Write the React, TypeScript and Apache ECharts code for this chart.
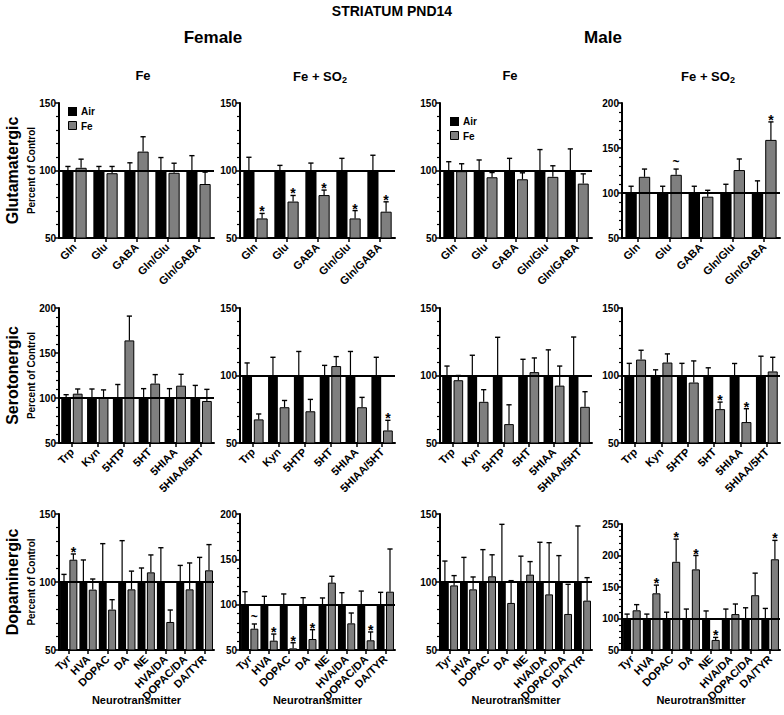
import React, { useEffect, useRef } from "react";
import * as echarts from "echarts";

const FONT = "'Liberation Sans', Arial, Helvetica, sans-serif";

// ---------- categories ----------
const gluCats = ["Gln", "Glu", "GABA", "Gln/Glu", "Gln/GABA"];
const seroCats = ["Trp", "Kyn", "5HTP", "5HT", "5HIAA", "5HIAA/5HT"];
const dopaCats = ["Tyr", "HVA", "DOPAC", "DA", "NE", "HVA/DA", "DOPAC/DA", "DA/TYR"];

// Air (control) means
const gluAir = [100, 100, 100, 100, 100];
const seroAir = [100, 100, 100, 100, 100, 100];
const dopaAir = [100, 100, 100, 100, 100, 100, 100, 100];

// ---------- Glutamatergic ----------
const gluFemFeAirErr = [103, 103, 105.7, 109.6, 111];
const gluFemFe = [102, 98, 114, 98.3, 90];
const gluFemFeErr = [108.4, 103, 125, 105.4, 98.8];
const gluFemFeSig = ["", "", "", "", ""];

const gluFemSoAirErr = [109.8, 103.8, 105.5, 109, 111.3];
const gluFemSo = [64.5, 77, 81.8, 64.5, 69.5];
const gluFemSoErr = [68.2, 81.5, 85.5, 70.3, 76.8];
const gluFemSoSig = ["*", "*", "*", "*", "*"];

const gluMalFeAirErr = [106.5, 107.8, 109, 115.5, 116];
const gluMalFe = [99.5, 95, 93.5, 95.3, 90.3];
const gluMalFeErr = [105, 98.5, 98.3, 103.5, 97.5];
const gluMalFeSig = ["", "", "", "", ""];

const gluMalSoAirErr = [107.5, 107.5, 107.5, 109.7, 113.5];
const gluMalSo = [118, 120.2, 95.9, 125.5, 159];
const gluMalSoErr = [126.6, 126.6, 103, 137.8, 179];
const gluMalSoSig = ["", "~", "", "", "*"];

// ---------- Serotonergic ----------
const seroFemFeAirErr = [103.7, 110, 115, 110.4, 110.4, 114];
const seroFemFe = [104.8, 100, 164, 116, 113.7, 96.7];
const seroFemFeErr = [110, 109, 191, 126, 126.3, 109.6];
const seroFemFeSig = ["", "", "", "", "", ""];

const seroFemSoAirErr = [109.3, 113.5, 117.8, 107.5, 117.8, 113.5];
const seroFemSo = [67.5, 76.5, 73.5, 107, 76.5, 59.3];
const seroFemSoErr = [71.5, 81.5, 82.3, 114, 83.8, 66.8];
const seroFemSoSig = ["", "", "", "", "", "*"];

const seroMalFeAirErr = [107, 115, 128.3, 112, 119, 128.5];
const seroMalFe = [96.5, 80.5, 64, 102.5, 92.5, 76.8];
const seroMalFeErr = [100, 89.5, 78.3, 113, 107, 88];
const seroMalFeSig = ["", "", "", "", "", ""];

const seroMalSoAirErr = [109, 104.2, 109, 105.7, 108.9, 114.3];
const seroMalSo = [111.8, 109.6, 94.8, 75.1, 65.5, 103];
const seroMalSoErr = [118.7, 116, 110.8, 80.3, 75.4, 113.5];
const seroMalSoSig = ["", "", "", "*", "*", ""];

// ---------- Dopaminergic ----------
const dopaFemFeAirErr = [105.6, 116.2, 128.2, 130.4, 110.3, 125.2, 112.2, 118.1];
const dopaFemFe = [116.4, 94.4, 79.7, 94.6, 107.1, 70.6, 94.6, 108.6];
const dopaFemFeErr = [120.6, 102.2, 87, 108, 119.9, 79.4, 114, 127.5];
const dopaFemFeSig = ["*", "", "", "", "", "", "", ""];

const dopaFemSoAirErr = [114.3, 109.2, 111.8, 107.7, 107.4, 113.2, 115, 113.6];
const dopaFemSo = [73.5, 60.3, 51.8, 62.1, 124.3, 79.4, 60.7, 114.3];
const dopaFemSoErr = [78.7, 67.6, 58, 72.4, 131.3, 90.8, 69.9, 161.4];
const dopaFemSoSig = ["~", "*", "*", "*", "", "", "*", ""];

const dopaMalFeAirErr = [115.4, 118.1, 123.8, 142.4, 119, 129.2, 119.4, 141.2];
const dopaMalFe = [97.5, 94.6, 104.2, 84.6, 105.4, 90.9, 76.5, 86.3];
const dopaMalFeErr = [104.7, 103.7, 120, 101, 115, 128.9, 98.3, 103.2];
const dopaMalFeSig = ["", "", "", "", "", "", "", ""];

const dopaMalSoAirErr = [107, 107, 110, 115, 112, 115, 117, 116];
const dopaMalSo = [113, 140, 190, 178, 66, 107, 137, 194];
const dopaMalSoErr = [122, 153, 226, 200, 70, 123, 172, 224];
const dopaMalSoSig = ["", "*", "*", "*", "*", "", "", "*"];

// axis ranges
const yMinByPanel = [50, 50, 50, 50, 50, 50, 50, 50, 50, 50, 50, 50];
const yMaxByPanel = [150, 150, 150, 200, 200, 150, 150, 150, 150, 200, 150, 250];

// ---------- layout ----------
const colLeft = [59, 240, 440, 622];
const colWidth = [155, 155, 152, 158];
const rowTop = [103, 308, 514];
const rowHeight = [135, 135, 136];
const rowBarFrac = [0.36, 0.38, 0.41];
const BAR_GAP = 0.18;

type Panel = {
  row: number;
  col: number;
  cats: string[];
  air: number[];
  airErr: number[];
  fe: number[];
  feErr: number[];
  sig: string[];
};

const panels: Panel[] = [
  { row: 0, col: 0, cats: gluCats, air: gluAir, airErr: gluFemFeAirErr, fe: gluFemFe, feErr: gluFemFeErr, sig: gluFemFeSig },
  { row: 0, col: 1, cats: gluCats, air: gluAir, airErr: gluFemSoAirErr, fe: gluFemSo, feErr: gluFemSoErr, sig: gluFemSoSig },
  { row: 0, col: 2, cats: gluCats, air: gluAir, airErr: gluMalFeAirErr, fe: gluMalFe, feErr: gluMalFeErr, sig: gluMalFeSig },
  { row: 0, col: 3, cats: gluCats, air: gluAir, airErr: gluMalSoAirErr, fe: gluMalSo, feErr: gluMalSoErr, sig: gluMalSoSig },
  { row: 1, col: 0, cats: seroCats, air: seroAir, airErr: seroFemFeAirErr, fe: seroFemFe, feErr: seroFemFeErr, sig: seroFemFeSig },
  { row: 1, col: 1, cats: seroCats, air: seroAir, airErr: seroFemSoAirErr, fe: seroFemSo, feErr: seroFemSoErr, sig: seroFemSoSig },
  { row: 1, col: 2, cats: seroCats, air: seroAir, airErr: seroMalFeAirErr, fe: seroMalFe, feErr: seroMalFeErr, sig: seroMalFeSig },
  { row: 1, col: 3, cats: seroCats, air: seroAir, airErr: seroMalSoAirErr, fe: seroMalSo, feErr: seroMalSoErr, sig: seroMalSoSig },
  { row: 2, col: 0, cats: dopaCats, air: dopaAir, airErr: dopaFemFeAirErr, fe: dopaFemFe, feErr: dopaFemFeErr, sig: dopaFemFeSig },
  { row: 2, col: 1, cats: dopaCats, air: dopaAir, airErr: dopaFemSoAirErr, fe: dopaFemSo, feErr: dopaFemSoErr, sig: dopaFemSoSig },
  { row: 2, col: 2, cats: dopaCats, air: dopaAir, airErr: dopaMalFeAirErr, fe: dopaMalFe, feErr: dopaMalFeErr, sig: dopaMalFeSig },
  { row: 2, col: 3, cats: dopaCats, air: dopaAir, airErr: dopaMalSoAirErr, fe: dopaMalSo, feErr: dopaMalSoErr, sig: dopaMalSoSig },
];

// panel-specific vertical tweak (bottom-right panel starts lower)
function gridBox(k: number, p: Panel) {
  let top = rowTop[p.row];
  let height = rowHeight[p.row];
  if (p.row === 2 && p.col === 3) {
    top = 524;
    height = 126;
  }
  return { left: colLeft[p.col], top, width: colWidth[p.col], height };
}

function makeRender(sig: string[], frac: number) {
  return (params: any, api: any) => {
    const i = api.value(0);
    const bw = api.size([1, 0])[0];
    const off = (bw * frac * (1 + BAR_GAP)) / 2;
    const cx = api.coord([i, 100])[0];
    const cap = 2.6;
    const els: any[] = [];
    const bars: [number, number, number, string][] = [
      [api.value(1), api.value(2), cx - off, ""],
      [api.value(3), api.value(4), cx + off, sig[i]],
    ];
    for (const [m, t, x, s] of bars) {
      const y0 = api.coord([i, m])[1];
      const y1 = api.coord([i, t])[1];
      els.push({ type: "line", shape: { x1: x, y1: y0, x2: x, y2: y1 }, style: { stroke: "#000", lineWidth: 1.2 } });
      els.push({ type: "line", shape: { x1: x - cap, y1: y1, x2: x + cap, y2: y1 }, style: { stroke: "#000", lineWidth: 1.4 } });
      if (s) {
        els.push({
          type: "text",
          x: x,
          y: s === "*" ? y1 + 5 : y1 - 1,
          style: {
            text: s,
            fill: "#000",
            font: `bold ${s === "*" ? 14 : 12}px ${FONT}`,
            textAlign: "center",
            textVerticalAlign: "bottom",
          },
        });
      }
    }
    return { type: "group", children: els };
  };
}

function txt(text: string, x: number, y: number, size: number, rot = 0, align = "center"): any {
  return {
    type: "text",
    x,
    y,
    rotation: rot,
    style: { text, fill: "#000", font: `bold ${size}px ${FONT}`, textAlign: align, textVerticalAlign: "middle" },
  };
}

function soTitle(x: number, y: number): any {
  return {
    type: "text",
    x,
    y,
    style: {
      text: "{a|Fe + SO}{b|2}",
      textAlign: "center",
      textVerticalAlign: "middle",
      rich: {
        a: { fontSize: 13, fontWeight: "bold", fontFamily: FONT, fill: "#000" },
        b: { fontSize: 9, fontWeight: "bold", fontFamily: FONT, fill: "#000", padding: [7, 0, 0, 0] },
      },
    },
  };
}

function buildOption(): any {
  const grid: any[] = [];
  const xAxis: any[] = [];
  const yAxis: any[] = [];
  const series: any[] = [];

  panels.forEach((p, k) => {
    const frac = rowBarFrac[p.row];
    grid.push(gridBox(k, p));
    xAxis.push({
      type: "category",
      gridIndex: k,
      data: p.cats,
      axisLine: { show: true, onZero: false, lineStyle: { color: "#000", width: 2 } },
      axisTick: { show: true, alignWithLabel: true, length: 4, lineStyle: { color: "#000", width: 1.5 } },
      axisLabel: { interval: 0, rotate: 45, fontSize: 11, fontWeight: "bold", color: "#000", fontFamily: FONT, margin: 7 },
      splitLine: { show: false },
    });
    yAxis.push({
      type: "value",
      gridIndex: k,
      min: yMinByPanel[k],
      max: yMaxByPanel[k],
      interval: 50,
      axisLine: { show: true, lineStyle: { color: "#000", width: 2 } },
      axisTick: { show: true, length: 4, lineStyle: { color: "#000", width: 1.5 } },
      minorTick: { show: true, splitNumber: 5, length: 3, lineStyle: { color: "#000", width: 1.2 } },
      splitLine: { show: false },
      minorSplitLine: { show: false },
      axisLabel: { fontSize: 10, fontWeight: "bold", color: "#000", fontFamily: FONT, margin: 3 },
    });
    series.push({
      type: "bar",
      name: "Air",
      xAxisIndex: k,
      yAxisIndex: k,
      data: p.air,
      barWidth: `${frac * 100}%`,
      barGap: `${BAR_GAP * 100}%`,
      itemStyle: { color: "#000" },
      silent: true,
    });
    series.push({
      type: "bar",
      name: "Fe",
      xAxisIndex: k,
      yAxisIndex: k,
      data: p.fe,
      barWidth: `${frac * 100}%`,
      barGap: `${BAR_GAP * 100}%`,
      itemStyle: { color: "#7f7f7f", borderColor: "#000", borderWidth: 1 },
      silent: true,
    });
    series.push({
      type: "custom",
      xAxisIndex: k,
      yAxisIndex: k,
      z: 10,
      clip: false,
      silent: true,
      renderItem: makeRender(p.sig, frac),
      encode: { x: 0, y: [1, 2, 3, 4] },
      data: p.cats.map((_, i) => [i, p.air[i], p.airErr[i], p.fe[i], p.feErr[i]]),
      markLine: {
        silent: true,
        symbol: "none",
        label: { show: false },
        lineStyle: { color: "#000", width: 2, type: "solid" },
        data: [{ yAxis: 100 }],
        z: 12,
      },
    });
  });

  const colCenters = colLeft.map((l, i) => l + colWidth[i] / 2);
  const rowCenters = rowTop.map((t, i) => t + rowHeight[i] / 2);

  const graphic: any[] = [
    txt("STRIATUM PND14", 392, 11, 14),
    txt("Female", 213, 37, 17),
    txt("Male", 603, 37, 17),
    txt("Fe", 143, 75, 13),
    txt("Fe", 510, 75, 13),
    soTitle(320, 76),
    soTitle(708, 76),
    txt("Glutamatergic", 12, rowCenters[0], 16, Math.PI / 2),
    txt("Serotonergic", 12, rowCenters[1], 16, Math.PI / 2),
    txt("Dopaminergic", 12, rowCenters[2], 16, Math.PI / 2),
    txt("Percent of Control", 31, rowCenters[0], 10, Math.PI / 2),
    txt("Percent of Control", 31, rowCenters[1], 10, Math.PI / 2),
    txt("Percent of Control", 31, rowCenters[2], 10, Math.PI / 2),
    // legends
    { type: "rect", shape: { x: 68, y: 107, width: 9, height: 9 }, style: { fill: "#000" } },
    txt("Air", 81, 111.5, 10, 0, "left"),
    { type: "rect", shape: { x: 68.5, y: 121.5, width: 8, height: 8 }, style: { fill: "#7f7f7f", stroke: "#000", lineWidth: 1 } },
    txt("Fe", 81, 126, 10, 0, "left"),
    { type: "rect", shape: { x: 450, y: 117, width: 9, height: 9 }, style: { fill: "#000" } },
    txt("Air", 463, 121.5, 10, 0, "left"),
    { type: "rect", shape: { x: 450.5, y: 131.5, width: 8, height: 8 }, style: { fill: "#7f7f7f", stroke: "#000", lineWidth: 1 } },
    txt("Fe", 463, 136, 10, 0, "left"),
  ];
  colCenters.forEach((c) => graphic.push(txt("Neurotransmitter", c, 700, 11)));

  return { animation: false, backgroundColor: "#fff", grid, xAxis, yAxis, series, graphic };
}

export default function App() {
  const ref = useRef<HTMLDivElement>(null);
  useEffect(() => {
    if (!ref.current) return;
    const chart = echarts.init(ref.current, undefined, { renderer: "svg" });
    chart.setOption(buildOption());
    return () => chart.dispose();
  }, []);
  return <div ref={ref} style={{ position: "absolute", left: 0, top: 0, width: 784, height: 715, background: "#fff" }} />;
}
